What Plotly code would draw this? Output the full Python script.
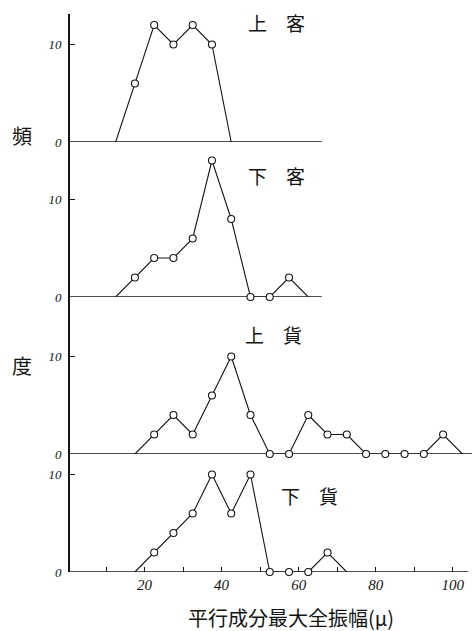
import plotly.graph_objects as go
from plotly.subplots import make_subplots

# Frequency distributions of the maximum full amplitude of the horizontal component (μ)
panel_names = ["上　客", "下　客", "上　貨", "下　貨"]

x_upper_passenger = [12.5, 17.5, 22.5, 27.5, 32.5, 37.5, 42.5]
y_upper_passenger = [0, 6, 12, 10, 12, 10, 0]

x_lower_passenger = [12.5, 17.5, 22.5, 27.5, 32.5, 37.5, 42.5, 47.5, 52.5, 57.5, 62.5]
y_lower_passenger = [0, 2, 4, 4, 6, 14, 8, 0, 0, 2, 0]

x_upper_freight = [17.5, 22.5, 27.5, 32.5, 37.5, 42.5, 47.5, 52.5, 57.5,
                   62.5, 67.5, 72.5, 77.5, 82.5, 87.5, 92.5, 97.5, 102.5]
y_upper_freight = [0, 2, 4, 2, 6, 10, 4, 0, 0, 4, 2, 2, 0, 0, 0, 0, 2, 0]

x_lower_freight = [17.5, 22.5, 27.5, 32.5, 37.5, 42.5, 47.5, 52.5, 57.5, 62.5, 67.5, 72.5]
y_lower_freight = [0, 2, 4, 6, 10, 6, 10, 0, 0, 0, 2, 0]

series_x = [x_upper_passenger, x_lower_passenger, x_upper_freight, x_lower_freight]
series_y = [y_upper_passenger, y_lower_passenger, y_upper_freight, y_lower_freight]

# right end of each panel's zero line
baseline_end = [66, 66, 105, 104]

x_tick_vals = [10, 20, 30, 40, 50, 60, 70, 80, 90, 100]
x_tick_text = ["", "20", "", "40", "", "60", "", "80", "", "100"]
y_tick_vals = [0, 10]
y_tick_text = ["0", "10"]

x_title = "平行成分最大全振幅(μ)"
y_title_chars = ["頻", "度"]

# ---- layout geometry (pixels) ----
W, H = 472, 631
ML, MR, MT, MB = 70, 0, 14, 59
PW, PH = W - ML - MR, H - MT - MB
panel_top_px = [14, 142, 297, 454]
panel_bot_px = [142, 297, 454, 572]
px_per_unit = 9.75
X_RANGE = [0.65, 105]


def to_paper(px, py):
    return (px - ML) / PW, (H - MB - py) / PH


ink = "#141414"
cjk = "Noto Sans CJK JP"
num_font = dict(family="Liberation Serif", size=14, color=ink, style="italic")

fig = make_subplots(rows=4, cols=1, shared_xaxes=True, vertical_spacing=0)

for i in range(4):
    row = i + 1
    xs, ys = series_x[i], series_y[i]
    # zero line of the panel
    fig.add_trace(go.Scatter(x=[0, baseline_end[i]], y=[0, 0], mode="lines",
                             line=dict(color=ink, width=1.3), hoverinfo="skip",
                             showlegend=False, cliponaxis=False), row=row, col=1)
    # frequency polygon
    fig.add_trace(go.Scatter(x=xs, y=ys, mode="lines",
                             line=dict(color=ink, width=1.1),
                             showlegend=False, cliponaxis=False), row=row, col=1)
    # open circles on the class midpoints
    fig.add_trace(go.Scatter(x=xs[1:-1], y=ys[1:-1], mode="markers",
                             marker=dict(symbol="circle", size=7, color="white",
                                         line=dict(color=ink, width=1.1)),
                             showlegend=False, cliponaxis=False), row=row, col=1)

    y0, y1 = to_paper(0, panel_bot_px[i])[1], to_paper(0, panel_top_px[i])[1]
    yname = "yaxis" if i == 0 else f"yaxis{row}"
    fig.layout[yname].update(
        domain=[y0, y1],
        range=[0, (panel_bot_px[i] - panel_top_px[i]) / px_per_unit],
        tickvals=y_tick_vals, ticktext=y_tick_text,
        ticks="inside", ticklen=5, tickwidth=1.2, tickcolor=ink,
        showline=True, linecolor=ink, linewidth=1.6,
        showgrid=False, zeroline=False, tickfont=dict(num_font, size=13),
        ticklabelstandoff=4, fixedrange=True,
    )
    xname = "xaxis" if i == 0 else f"xaxis{row}"
    fig.layout[xname].update(range=X_RANGE, showgrid=False, zeroline=False,
                             showline=False, showticklabels=False, ticks="")

# tick marks and labels only on the bottom axis
fig.layout["xaxis4"].update(
    tickvals=x_tick_vals, ticktext=x_tick_text, showticklabels=True,
    ticks="inside", ticklen=5, tickwidth=1.1, tickcolor=ink,
    tickfont=dict(num_font, size=15), ticklabelstandoff=2,
)

annotations = []
# panel titles
title_pos = [(276, 23), (276, 175), (273, 335), (309, 495)]
for name, (px, py) in zip(panel_names, title_pos):
    xp, yp = to_paper(px, py)
    annotations.append(dict(text=name, x=xp, y=yp, xref="paper", yref="paper",
                            showarrow=False, xanchor="center", yanchor="middle",
                            font=dict(family=cjk, size=19, color=ink)))
# vertical title, split over two characters
for ch, (px, py) in zip(y_title_chars, [(22, 136), (22, 365)]):
    xp, yp = to_paper(px, py)
    annotations.append(dict(text=ch, x=xp, y=yp, xref="paper", yref="paper",
                            showarrow=False, xanchor="center", yanchor="middle",
                            font=dict(family=cjk, size=20, color=ink)))
# horizontal title
xp, yp = to_paper(291, 617)
annotations.append(dict(text=x_title, x=xp, y=yp, xref="paper", yref="paper",
                        showarrow=False, xanchor="center", yanchor="middle",
                        font=dict(family=cjk, size=20, color=ink)))

fig.update_layout(
    width=W, height=H,
    margin=dict(l=ML, r=MR, t=MT, b=MB),
    paper_bgcolor="white", plot_bgcolor="white",
    annotations=annotations, showlegend=False,
)

fig.write_html("out.html", config={"displayModeBar": False})
